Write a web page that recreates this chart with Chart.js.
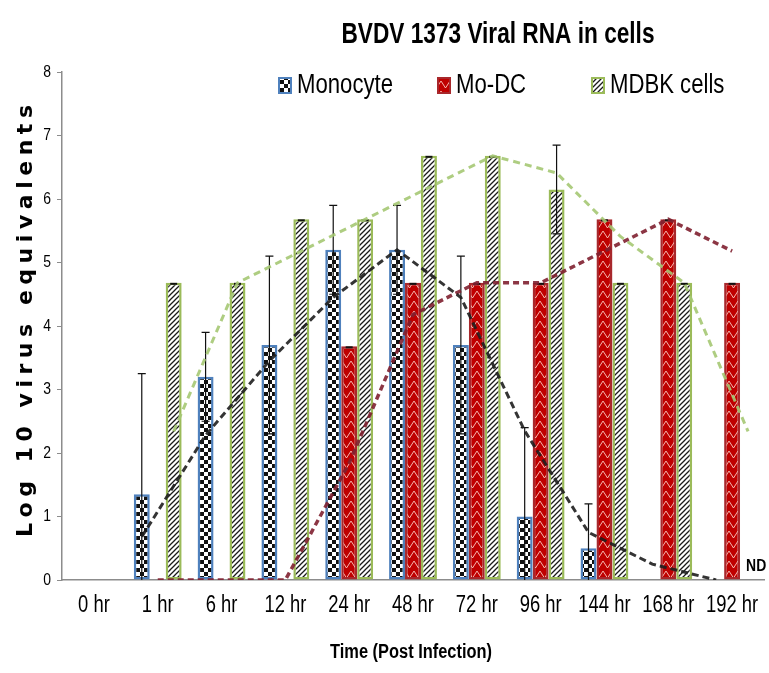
<!DOCTYPE html>
<html>
<head>
<meta charset="utf-8">
<script src="https://cdn.jsdelivr.net/npm/chart.js@4.4.1/dist/chart.umd.min.js"></script>
<style>
  html, body { margin: 0; padding: 0; background: #ffffff; }
  #wrap { width: 769px; height: 673px; position: relative; }
</style>
</head>
<body>
<div id="wrap"><canvas id="chart" width="769" height="673"></canvas></div>
<script>
// ---- data ----
const categories = ['0 hr', '1 hr', '6 hr', '12 hr', '24 hr', '48 hr', '72 hr', '96 hr', '144 hr', '168 hr', '192 hr'];

const monocyte    = [0, 1.35, 3.2, 3.7, 5.2, 5.2, 3.7, 1.0, 0.5, 0, 0];
const monocyteErr = [0, 1.9, 0.7, 1.4, 0.7, 0.7, 1.4, 1.4, 0.7, 0, 0];

const moDC    = [0, 0, 0, 0, 3.68, 4.68, 4.68, 4.68, 5.68, 5.68, 4.68];
const moDCErr = [0, 0, 0, 0, 0, 0, 0, 0, 0, 0, 0];

const mdbk    = [0, 4.68, 4.68, 5.68, 5.68, 6.68, 6.68, 6.15, 4.68, 4.68, 0];
const mdbkErr = [0, 0, 0, 0, 0, 0, 0, 0.7, 0, 0, 0];

// two-period moving-average trend lines
const monocyteTrend = [null, 0.68, 2.28, 3.45, 4.45, 5.2, 4.45, 2.35, 0.75, 0.25, 0];
const moDCTrend     = [null, 0, 0, 0, 1.84, 4.18, 4.68, 4.68, 5.18, 5.68, 5.18];
const mdbkTrend     = [null, 2.34, 4.68, 5.18, 5.68, 6.18, 6.68, 6.41, 5.41, 4.68, 2.34];

const seriesNames = ['Monocyte', 'Mo-DC', 'MDBK cells'];
const yTickValues = [0, 1, 2, 3, 4, 5, 6, 7, 8];

const chartTitle = 'BVDV 1373 Viral RNA in cells';
const yTitle = 'Log 10 virus equivalents';
const xTitle = 'Time (Post Infection)';
const ndLabel = 'ND';

// ---- text helpers ----
const SANS = "'Liberation Sans', Arial, sans-serif";
const SQUEEZE = 0.82;   // narrow face look

function narrowText(ctx, text, x, y, font, align, squeeze) {
  ctx.save();
  ctx.font = font;
  ctx.textBaseline = 'middle';
  ctx.textAlign = 'left';
  const w = ctx.measureText(text).width * squeeze;
  let left = x;
  if (align === 'center') left = x - w / 2;
  else if (align === 'right') left = x - w;
  ctx.translate(left, y);
  ctx.scale(squeeze, 1);
  ctx.fillText(text, 0, 0);
  ctx.restore();
  return w;
}

function fitText(ctx, text, cx, y, font, width) {
  ctx.save();
  ctx.font = font;
  const s = width / ctx.measureText(text).width;
  ctx.restore();
  narrowText(ctx, text, cx, y, font, 'center', s);
}

// ---- fill patterns ----
function makeTile(w, h, paint) {
  const c = document.createElement('canvas');
  c.width = w; c.height = h;
  const g = c.getContext('2d');
  paint(g, w, h);
  return document.getElementById('chart').getContext('2d').createPattern(c, 'repeat');
}

const checkerFill = makeTile(8, 8, (g) => {
  g.fillStyle = '#ffffff'; g.fillRect(0, 0, 8, 8);
  g.fillStyle = '#111111';
  g.fillRect(0, 0, 4, 4); g.fillRect(4, 4, 4, 4);
});

const zigzagFill = makeTile(9, 10, (g) => {
  g.fillStyle = '#bf0000'; g.fillRect(0, 0, 9, 10);
  g.strokeStyle = 'rgba(255,225,215,0.9)'; g.lineWidth = 0.9;
  g.beginPath();
  g.moveTo(0, 1); g.lineTo(4.5, 8); g.lineTo(9, 1);
  g.stroke();
});

const stripeFill = makeTile(5, 5, (g) => {
  g.fillStyle = '#ffffff'; g.fillRect(0, 0, 5, 5);
  g.strokeStyle = '#1a1a1a'; g.lineWidth = 1.3;
  g.beginPath();
  g.moveTo(-1, 6); g.lineTo(6, -1);
  g.moveTo(-1, 1); g.lineTo(1, -1);
  g.moveTo(4, 6); g.lineTo(6, 4);
  g.stroke();
});

const barFills   = [checkerFill, zigzagFill, stripeFill];
const barBorders = ['#4f81bd', '#a8282c', '#9bbb59'];
const errorSets  = [monocyteErr, moDCErr, mdbkErr];

// ---- plugins ----
// trend points sit over the bar of their own series
const trendToBar = { 3: 0, 4: 1, 5: 2 };
const alignTrends = {
  id: 'alignTrends',
  afterDatasetsUpdate(chart) {
    Object.keys(trendToBar).forEach((li) => {
      const lineMeta = chart.getDatasetMeta(+li);
      const barMeta = chart.getDatasetMeta(trendToBar[li]);
      lineMeta.data.forEach((pt, i) => {
        if (barMeta.data[i]) pt.x = barMeta.data[i].x;
      });
    });
  }
};

const errorBars = {
  id: 'errorBars',
  afterDatasetDraw(chart, args) {
    const idx = args.index;
    if (idx > 2) return;
    const errs = errorSets[idx];
    const y = chart.scales.y;
    const area = chart.chartArea;
    const ctx = chart.ctx;
    ctx.save();
    ctx.strokeStyle = '#111111';
    args.meta.data.forEach((bar, i) => {
      const v = chart.data.datasets[idx].data[i];
      if (!v) return;
      const e = errs[i];
      const cx = bar.x;
      if (e > 0) {
        const top = y.getPixelForValue(v + e);
        const bot = Math.min(y.getPixelForValue(v - e), area.bottom);
        ctx.lineWidth = 1.2;
        ctx.beginPath();
        ctx.moveTo(cx, top); ctx.lineTo(cx, bot);
        ctx.moveTo(cx - 4, top); ctx.lineTo(cx + 4, top);
        if (v - e > 0) { ctx.moveTo(cx - 4, bot); ctx.lineTo(cx + 4, bot); }
        ctx.stroke();
      } else {
        const py = y.getPixelForValue(v);
        ctx.lineWidth = 2;
        ctx.beginPath();
        ctx.moveTo(cx - 3.5, py + 1); ctx.lineTo(cx + 3.5, py + 1);
        ctx.stroke();
      }
    });
    ctx.restore();
  }
};

const decorations = {
  id: 'decorations',
  afterDraw(chart) {
    const ctx = chart.ctx;
    const xs = chart.scales.x;
    const ys = chart.scales.y;
    ctx.save();
    ctx.fillStyle = '#000000';

    // category labels
    xs.ticks.forEach((t, i) => {
      narrowText(ctx, xs.getLabelForValue(t.value), xs.getPixelForTick(i), 606,
        '23px ' + SANS, 'center', 0.8);
    });
    // value labels
    ys.ticks.forEach((t) => {
      narrowText(ctx, String(t.value), ys.left + ys.width - 11, ys.getPixelForValue(t.value),
        '17px ' + SANS, 'right', SQUEEZE);
    });
    // axis title
    narrowText(ctx, xTitle, (xs.left + xs.right) / 2 - 2, 652, 'bold 20px ' + SANS, 'center', SQUEEZE);

    // chart title
    fitText(ctx, chartTitle, 498, 35, 'bold 29px ' + SANS, 313);

    // legend
    const legendX = [279, 438, 592];
    seriesNames.forEach((name, i) => {
      const bx = legendX[i], by = 78;
      ctx.fillStyle = barFills[i];
      ctx.fillRect(bx, by, 12, 15);
      ctx.strokeStyle = barBorders[i];
      ctx.lineWidth = 2;
      ctx.strokeRect(bx, by, 12, 15);
      ctx.fillStyle = '#000000';
      narrowText(ctx, name, bx + 18, 86, '27px ' + SANS, 'left', SQUEEZE);
    });

    // y axis title, spread along the axis
    ctx.font = "bold 22px 'DejaVu Sans', Verdana, sans-serif";
    ctx.textAlign = 'left';
    ctx.textBaseline = 'middle';
    const chars = Array.from(yTitle);
    const widths = chars.map((ch) => ctx.measureText(ch).width);
    const natural = widths.reduce((a, b) => a + b, 0);
    const target = 432;
    const gap = (target - natural) / (chars.length - 1);
    ctx.translate(26, 321);
    ctx.rotate(-Math.PI / 2);
    let cx = -target / 2;
    chars.forEach((ch, i) => {
      ctx.fillText(ch, cx, 0);
      cx += widths[i] + gap;
    });
    ctx.setTransform(1, 0, 0, 1, 0, 0);

    // not-detected marker beside the last group
    const lastBar = chart.getDatasetMeta(1).data[categories.length - 1];
    narrowText(ctx, ndLabel, lastBar.x + lastBar.width / 2 + 6, 566, 'bold 17px ' + SANS, 'left', SQUEEZE);

    ctx.restore();
  }
};

// ---- chart ----
const barDataset = (label, data, i) => ({
  type: 'bar',
  label,
  data,
  backgroundColor: barFills[i],
  borderColor: barBorders[i],
  borderWidth: (c) => (c.raw ? 2.5 : 0),
  borderSkipped: false,
  categoryPercentage: 0.75,
  barPercentage: 1.0,
  order: 2
});

const trendDataset = (label, data, color, width, dash) => ({
  type: 'line',
  label,
  data,
  borderColor: color,
  borderWidth: width,
  borderDash: dash,
  pointRadius: 0,
  tension: 0,
  fill: false,
  spanGaps: false,
  order: 1
});

new Chart(document.getElementById('chart'), {
  data: {
    labels: categories,
    datasets: [
      barDataset(seriesNames[0], monocyte, 0),
      barDataset(seriesNames[1], moDC, 1),
      barDataset(seriesNames[2], mdbk, 2),
      trendDataset('Monocyte trend', monocyteTrend, 'rgba(30,30,30,0.9)', 3, [7, 4]),
      trendDataset('Mo-DC trend', moDCTrend, 'rgba(128,32,48,0.9)', 3.5, [6, 4]),
      trendDataset('MDBK cells trend', mdbkTrend, 'rgba(165,200,115,0.9)', 3, [7, 5])
    ]
  },
  options: {
    responsive: false,
    animation: false,
    devicePixelRatio: 1,
    layout: { padding: { top: 72, right: 5, left: 0, bottom: 0 } },
    plugins: {
      legend: { display: false },
      title: { display: false },
      tooltip: { enabled: false }
    },
    scales: {
      x: {
        type: 'category',
        offset: true,
        grid: { display: false, drawTicks: false },
        border: { display: true, color: '#8c8c8c', width: 1.5 },
        ticks: { display: false, autoSkip: false },
        afterFit(scale) { scale.height = 93; }
      },
      y: {
        min: 0,
        max: 8,
        afterBuildTicks(scale) { scale.ticks = yTickValues.map((v) => ({ value: v })); },
        grid: { drawOnChartArea: false, drawTicks: true, tickLength: 5, color: '#8c8c8c' },
        border: { display: true, color: '#8c8c8c', width: 1.5 },
        ticks: { display: false },
        afterFit(scale) { scale.width = 62; }
      }
    }
  },
  plugins: [alignTrends, errorBars, decorations]
});
</script>
</body>
</html>
